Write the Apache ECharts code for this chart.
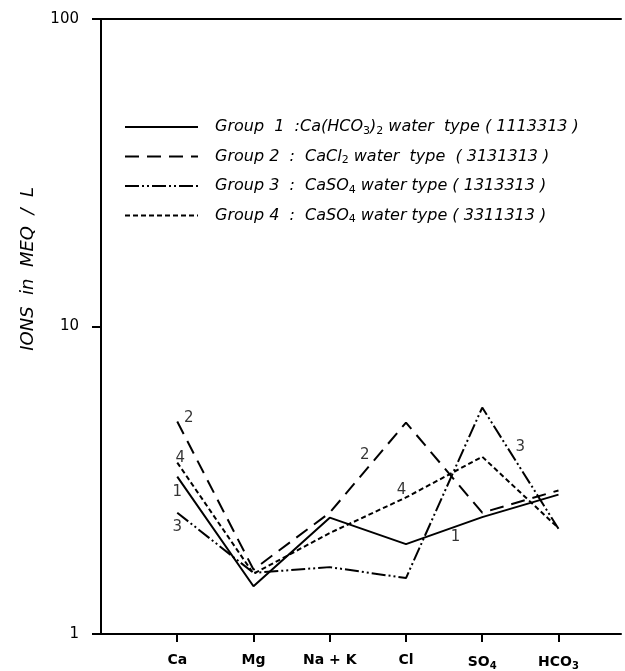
<!DOCTYPE html>
<html>
<head>
<meta charset="utf-8">
<script src="https://cdn.jsdelivr.net/npm/echarts@6/dist/echarts.min.js"></script>
<style>
  html, body { margin: 0; padding: 0; background: #fff; }
  #chart { width: 625px; height: 671px; }
</style>
</head>
<body>
<div id="chart"></div>
<script>
// ions on the x axis (position 1..6)
const categories = ['Ca', 'Mg', 'Na + K', 'Cl', 'SO{sub|4}', 'HCO{sub|3}']
const catPos = [1, 2, 3, 4, 5, 6]

// meq/L
const group1 = [3.25, 1.43, 2.39, 1.96, 2.40, 2.84]
const group2 = [4.91, 1.62, 2.48, 4.87, 2.48, 2.93]
const group3 = [2.48, 1.58, 1.65, 1.52, 5.45, 2.20]
const group4 = [3.61, 1.57, 2.13, 2.78, 3.77, 2.21]

const yTicks = [1, 10, 100]

const legendText = {
  'Group 1': 'Group  1  :Ca(HCO{sub|3}){sub|2} water  type ( 1113313 )',
  'Group 2': 'Group 2  :  CaCl{sub|2} water  type  ( 3131313 )',
  'Group 3': 'Group 3  :  CaSO{sub|4} water type ( 1313313 )',
  'Group 4': 'Group 4  :  CaSO{sub|4} water type ( 3311313 )'
}

// curve numbers written next to the lines: [x, y, text]
const curveLabels = [
  [1.15, 5.05, '2'], [1.04, 3.72, '4'], [1.0, 2.90, '1'], [1.0, 2.23, '3'],
  [3.46, 3.83, '2'], [3.94, 2.94, '4'], [4.65, 2.07, '1'], [5.50, 4.06, '3']
]

const font = '"DejaVu Sans", sans-serif'

function pairs(vals) {
  return vals.map((v, i) => [catPos[i], v])
}

function lineSeries(name, vals, type, width) {
  return {
    name: name,
    type: 'line',
    data: pairs(vals),
    symbol: 'none',
    silent: true,
    lineStyle: { color: '#000', width: width, type: type },
    itemStyle: { color: '#000' },
    animation: false
  }
}

const chart = echarts.init(document.getElementById('chart'))

chart.setOption({
  backgroundColor: '#fff',
  animation: false,
  grid: { left: 101, right: 4, top: 19, bottom: 37 },
  legend: {
    data: ['Group 1', 'Group 2', 'Group 3', 'Group 4'],
    orient: 'vertical',
    left: 119,
    top: 114,
    itemWidth: 73,
    itemHeight: 14,
    itemGap: 12,
    selectedMode: false,
    itemStyle: { color: 'rgba(0,0,0,0)', borderWidth: 0 },
    formatter: name => legendText[name],
    textStyle: {
      fontFamily: font,
      fontStyle: 'italic',
      fontSize: 16,
      color: '#000',
      padding: [0, 0, 0, 12],
      rich: { sub: { fontSize: 11, fontStyle: 'normal', padding: [8, 0, 0, 0] } }
    }
  },
  xAxis: [{
    type: 'value',
    min: 0,
    max: 6.82,
    splitLine: { show: false },
    axisLine: { onZero: false, lineStyle: { color: '#000', width: 2 } },
    axisTick: { customValues: catPos, length: 8, inside: false, lineStyle: { color: '#000', width: 2 } },
    axisLabel: {
      customValues: catPos,
      margin: 19,
      color: '#000',
      fontFamily: font,
      fontSize: 14,
      fontWeight: 'bold',
      formatter: v => categories[catPos.indexOf(v)] || '',
      rich: { sub: { fontSize: 10, fontWeight: 'bold', padding: [8, 0, 0, 0] } }
    }
  }, {
    type: 'value',
    position: 'top',
    min: 0,
    max: 6.82,
    axisLine: { show: true, onZero: false, lineStyle: { color: '#000', width: 2 } },
    axisTick: { show: false },
    axisLabel: { show: false },
    splitLine: { show: false }
  }],
  yAxis: {
    type: 'log',
    logBase: 10,
    min: yTicks[0],
    max: yTicks[yTicks.length - 1],
    splitLine: { show: false },
    axisLine: { show: true, lineStyle: { color: '#000', width: 2 } },
    axisTick: { show: true, length: 9, lineStyle: { color: '#000', width: 2 } },
    axisLabel: {
      margin: 22,
      color: '#000',
      fontFamily: font,
      fontSize: 15,
      formatter: v => String(v)
    }
  },
  graphic: [{
    type: 'text',
    left: 19,
    top: 187,
    rotation: Math.PI / 2,
    style: {
      text: 'IONS  in  MEQ  /  L',
      font: 'italic 18px ' + font,
      fill: '#000'
    }
  }],
  series: [
    lineSeries('Group 1', group1, 'solid', 2),
    lineSeries('Group 2', group2, [14, 8], 2),
    lineSeries('Group 3', group3, [14, 3, 2, 3, 2, 3], 2),
    lineSeries('Group 4', group4, [5, 3], 2),
    {
      name: 'labels',
      type: 'scatter',
      data: curveLabels,
      symbolSize: 0,
      silent: true,
      label: {
        show: true,
        position: 'inside',
        formatter: p => p.value[2],
        color: '#000',
        fontFamily: font,
        fontSize: 15
      }
    }
  ]
})
</script>
</body>
</html>
